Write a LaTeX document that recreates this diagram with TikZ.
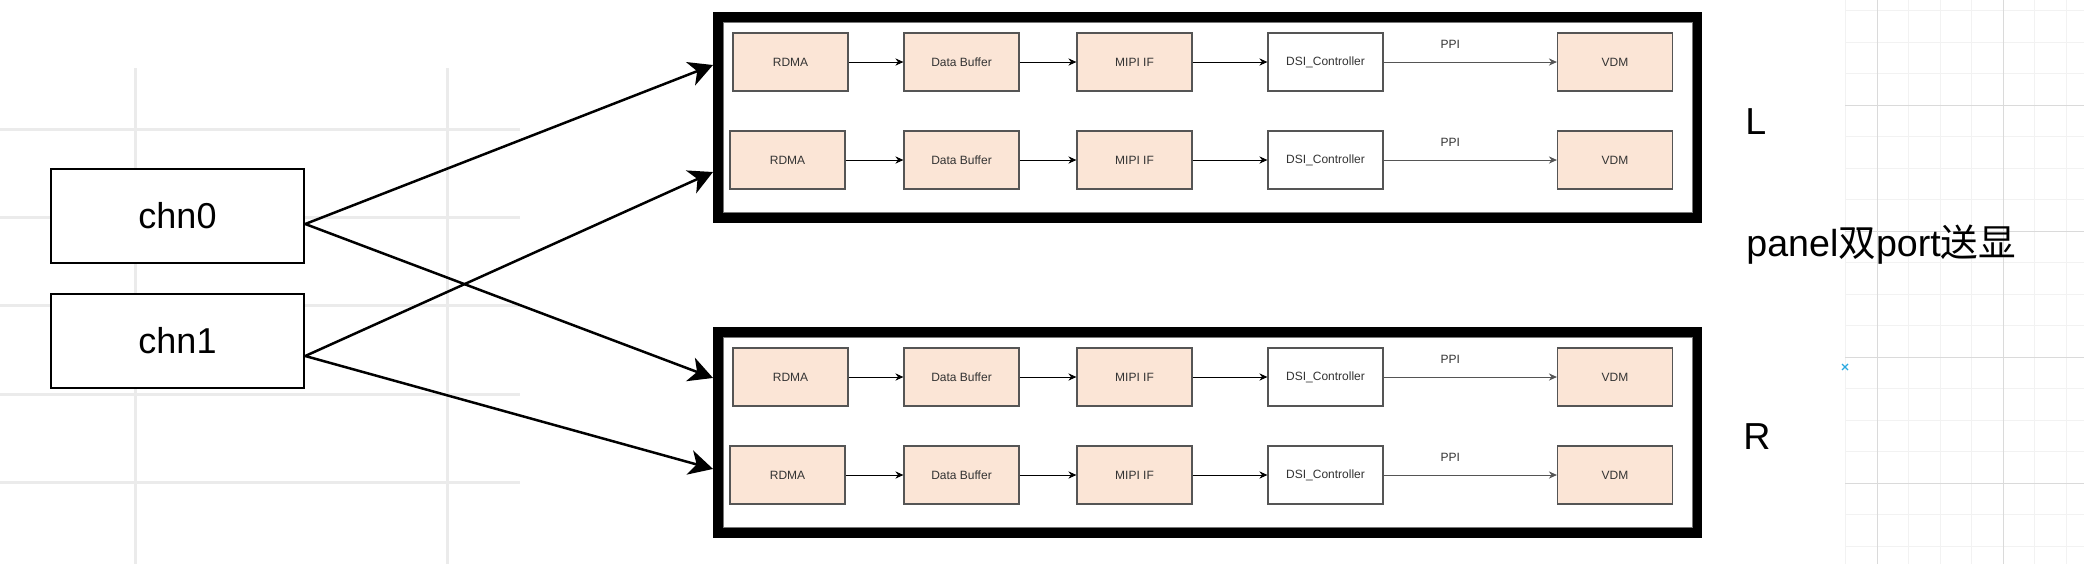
\documentclass[tikz,border=0pt]{standalone}
\usepackage{fontspec}
\setmainfont{Liberation Sans}
\newfontfamily\cjk{Noto Sans CJK SC}
\usetikzlibrary{arrows.meta}
\definecolor{peach}{HTML}{FBE5D6}
\definecolor{boxgray}{HTML}{555555}
\definecolor{textgray}{HTML}{333333}
\definecolor{gridA}{HTML}{EBEBEB}
\definecolor{gridMinor}{HTML}{F2F2F2}
\definecolor{gridMajor}{HTML}{DADADA}
\definecolor{cursorblue}{HTML}{29A8E0}
\tikzset{
  chnbox/.style={draw, line width=1.25pt, fill=white, minimum width=126.5pt, minimum height=47pt, inner sep=0pt, font=\fontsize{18}{20}\selectfont},
  frame/.style={draw, line width=5pt, minimum width=489.5pt, minimum height=100.5pt, inner sep=0pt},
  innerline/.style={draw=boxgray!80, line width=0.5pt},
  blk/.style={draw=boxgray, fill=peach, line width=0.6pt, minimum width=57.5pt, minimum height=29pt, inner sep=0pt, text=textgray, font=\fontsize{6}{7}\selectfont},
  wblk/.style={blk, fill=white},
  flow/.style={-{Stealth[length=4pt,width=3.6pt]}, line width=0.5pt, black},
  ppiflow/.style={flow, draw=boxgray},
  ppilabel/.style={text=textgray, font=\fontsize{6}{7}\selectfont, inner sep=0pt},
  bigarrow/.style={-{Stealth[length=12pt,width=12.5pt,inset=3.5pt]}, line width=1.25pt, black},
  biglabel/.style={font=\fontsize{18.8}{20}\selectfont, inner sep=0pt, anchor=base west},
}
\begin{document}
\begin{tikzpicture}[x=0.5pt, y=-0.5pt]
\useasboundingbox (0,0) rectangle (2084,564);
% background grid (left)
\foreach \gx in {135,447} \draw[gridA, line width=1.5pt] (\gx,68) -- (\gx,564);
\foreach \gy in {129,217,305,394,482} \draw[gridA, line width=1.5pt] (0,\gy) -- (520,\gy);
% background grid (right)
\foreach \gx in {1845.5,1908.5,1940,1971.5,2034.5,2066} \draw[gridMinor, line width=0.5pt] (\gx,0) -- (\gx,564);
\foreach \gy in {10.5,42,73.5,136.5,168,199.5,262.5,294,325.5,388.5,420,451.5,514.5,546} \draw[gridMinor, line width=0.5pt] (1845,\gy) -- (2084,\gy);
\foreach \gx in {1877,2003} \draw[gridMajor, line width=0.5pt] (\gx,0) -- (\gx,564);
\foreach \gy in {105,231,357,483} \draw[gridMajor, line width=0.5pt] (1845,\gy) -- (2084,\gy);
% cursor mark
\draw[cursorblue, line width=0.6pt] (1842,364) -- (1848,370) (1842,370) -- (1848,364);

% channel boxes
\node[chnbox] (chn0) at (177.5,216) {chn0};
\node[chnbox] (chn1) at (177.5,341) {chn1};

% frames
\node[frame] (Lf) at (1207.5,117) {};
\node[frame] (Rf) at (1207.5,432.75) {};
\draw[innerline] (723,22) rectangle (1692,212);
\draw[innerline] (723,337.5) rectangle (1692,527.5);

% pipeline rows
\foreach \r/\y/\rx in {a/62/790.5, b/160/787.5, c/377/790.5, d/475/787.5}{
  \node[blk] (rdma\r) at (\rx,\y) {RDMA};
  \node[blk] (buf\r) at (961.5,\y) {Data Buffer};
  \node[blk] (mipi\r) at (1134.5,\y) {MIPI IF};
  \node[wblk] (dsi\r) at (1325.5,\y) {DSI\_Controller};
  \node[blk] (vdm\r) at (1615,\y) {VDM};
  \draw[flow] (rdma\r) -- (buf\r);
  \draw[flow] (buf\r) -- (mipi\r);
  \draw[flow] (mipi\r) -- (dsi\r);
  \draw[ppiflow] (dsi\r) -- node[ppilabel, pos=0.385, yshift=8.8pt] {PPI} (vdm\r);
}

% channel arrows
\coordinate (L1) at ([yshift=26pt]Lf.west);
\coordinate (L2) at ([yshift=-27.5pt]Lf.west);
\coordinate (R1) at ([yshift=27.4pt]Rf.west);
\coordinate (R2) at ([yshift=-18.1pt]Rf.west);
\draw[bigarrow] ([yshift=-4pt]chn0.east) -- (L1);
\draw[bigarrow] ([yshift=-4pt]chn0.east) -- (R1);
\draw[bigarrow] ([yshift=-7.5pt]chn1.east) -- (L2);
\draw[bigarrow] ([yshift=-7.5pt]chn1.east) -- (R2);

% labels
\node[biglabel] (lblL) at (1745,134) {L};
\node[biglabel] (lblR) at (1743,449) {R};
\node[biglabel] (lblP) at (1746,256) {panel{\cjk 双}port{\cjk 送显}};
\end{tikzpicture}
\end{document}
